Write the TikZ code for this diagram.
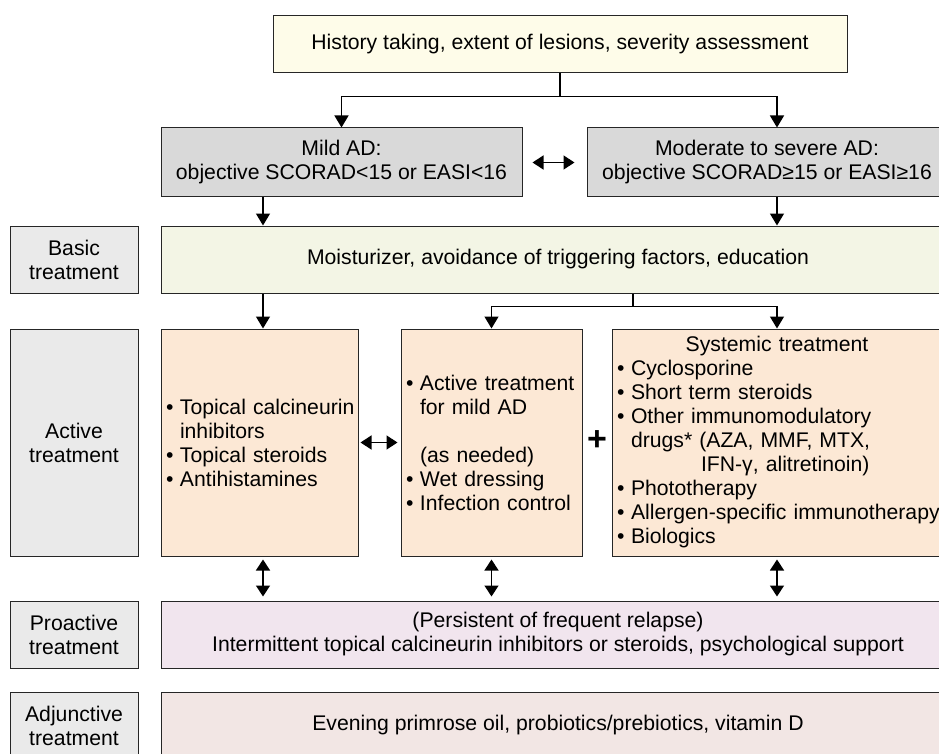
\documentclass[tikz,border=0pt]{standalone}
\usepackage{fontspec}
\setmainfont{Liberation Sans}
\usetikzlibrary{arrows.meta}

\definecolor{historyfill}{HTML}{FEFCE9}
\definecolor{gradefill}{HTML}{D9D9D9}
\definecolor{tagfill}{HTML}{EAEAEA}
\definecolor{basicfill}{HTML}{F3F5E5}
\definecolor{activefill}{HTML}{FCE8D5}
\definecolor{proactivefill}{HTML}{F1E5EE}
\definecolor{adjunctfill}{HTML}{F2E6E4}

\newcommand{\mainsize}{\fontsize{21.2}{24}\selectfont}
\newcommand{\bul}[1]{\mbox{\hspace*{5pt}\makebox[14pt][l]{•}#1}}
\newcommand{\ind}[1]{\mbox{\hspace*{19pt}#1}}

\begin{document}
\begin{tikzpicture}[x=1pt, y=-1pt,
    box/.style={draw=black!85, line width=1pt, rectangle, inner sep=0pt, align=center, font=\mainsize},
    tag/.style={box, fill=tagfill, minimum width=128pt},
    listbox/.style={box, fill=activefill, align=left, minimum height=227pt},
    arrow/.style={-{Triangle[width=14pt,length=12pt]}, line width=1.4pt},
    darrow/.style={{Triangle[width=14pt,length=11pt]}-{Triangle[width=14pt,length=11pt]}, line width=1.4pt}
]
\useasboundingbox (0,0) rectangle (939,754);

% assessment and severity
\node[box, fill=historyfill, minimum width=574pt, minimum height=57pt] (history) at (560,44.5) {History taking, extent of lesions, severity assessment};
\node[box, fill=gradefill, minimum width=361pt, minimum height=69pt] (mild) at (341.5,162.5) {Mild AD:\\objective SCORAD<15 or EASI<16};
\node[box, fill=gradefill, minimum width=360pt, minimum height=69pt] (severe) at (767,162.5) {Moderate to severe AD:\\objective SCORAD≥15 or EASI≥16};

% row labels
\node[tag, minimum height=67pt] (basiclbl) at (74,259.5) {Basic\\treatment};
\node[tag, minimum height=227pt] (activelbl) at (74,442.5) {Active\\treatment};
\node[tag, minimum height=67pt] (proactivelbl) at (74,634.5) {Proactive\\treatment};
\node[tag, minimum height=67pt] (adjunctlbl) at (74,725.5) {Adjunctive\\treatment};

% treatment rows
\node[box, fill=basicfill, minimum width=794pt, minimum height=67pt] (basic) at (558,259.5) {Moisturizer, avoidance of triggering factors, education};
\node[listbox, text width=197pt] (act1) at (259.5,442.5) {\bul{Topical calcineurin}\\\ind{inhibitors}\\\bul{Topical steroids}\\\bul{Antihistamines}};
\node[listbox, text width=181pt] (act2) at (491.5,442.5) {\bul{Active treatment}\\\ind{for mild AD}\\[24pt]\ind{(as needed)}\\\bul{Wet dressing}\\\bul{Infection control}};
\node[listbox, text width=330pt] (act3) at (777,442.5) {\makebox[330pt]{Systemic treatment}\\\bul{Cyclosporine}\\\bul{Short term steroids}\\\bul{Other immunomodulatory}\\\ind{drugs* (AZA, MMF, MTX,}\\\mbox{\hspace*{89pt}IFN-γ, alitretinoin)}\\\bul{Phototherapy}\\\bul{Allergen-specific immunotherapy}\\\bul{Biologics}};
\node[font=\fontsize{34}{34}\selectfont\bfseries, inner sep=0pt] (plus) at (597,441) {+};
\node[box, fill=proactivefill, minimum width=794pt, minimum height=67pt] (proactive) at (558,634.5) {(Persistent of frequent relapse)\\Intermittent topical calcineurin inhibitors or steroids, psychological support};
\node[box, fill=adjunctfill, minimum width=794pt, minimum height=67pt] (adjunct) at (558,725.5) {Evening primrose oil, probiotics/prebiotics, vitamin D};

\coordinate (colA) at (263,0);
\coordinate (colB) at (633,0);
\coordinate (colC) at (777,0);

\draw[arrow] (history.south) -- ++(0,23) -| (mild.north);
\draw[arrow] (history.south) -- ++(0,23) -| (severe.north -| colC);
\draw[darrow, shorten <=10pt, shorten >=12pt] (mild.east) -- (severe.west);
\draw[arrow] (mild.south -| colA) -- (basic.north -| colA);
\draw[arrow] (severe.south -| colC) -- (basic.north -| colC);
\draw[arrow] (basic.south -| colA) -- (act1.north -| colA);
\draw[arrow] (basic.south -| colB) -- ++(0,13) -| (act2.north);
\draw[arrow] (basic.south -| colB) -- ++(0,13) -| (act3.north);
\draw[darrow, shorten <=2pt, shorten >=3pt] (act1.east) -- (act2.west);
\draw[darrow, shorten <=3pt, shorten >=4pt] (act1.south -| colA) -- (proactive.north -| colA);
\draw[darrow, shorten <=3pt, shorten >=4pt] (act2.south) -- (proactive.north -| act2.south);
\draw[darrow, shorten <=3pt, shorten >=4pt] (act3.south) -- (proactive.north -| act3.south);
\end{tikzpicture}
\end{document}
